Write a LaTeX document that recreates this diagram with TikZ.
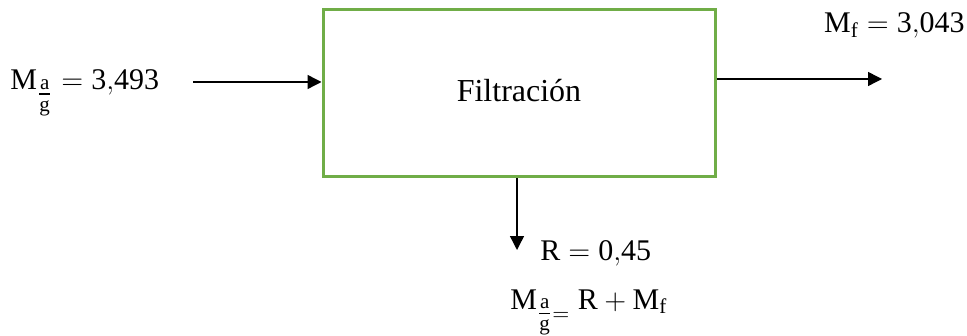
\documentclass[tikz,border=0pt]{standalone}
\usepackage{amsmath}
\usepackage{fontspec}
\setmainfont{Liberation Serif}
\setmathrm{Liberation Serif}
\usetikzlibrary{arrows.meta, positioning}
\definecolor{boxgreen}{RGB}{112,173,71}
\newcommand{\agsub}{\genfrac{}{}{}{1}{\mathrm{a}}{\mathrm{g}}}

\begin{document}
\begin{tikzpicture}[x=0.5pt, y=-0.5pt,
                box/.style={draw=boxgreen, line width=1.5pt, minimum width=196pt, minimum height=83.5pt,
                    font=\fontsize{16}{19}\selectfont},
                lbl/.style={inner sep=0pt, font=\fontsize{15}{18}\selectfont},
                arr/.style={-{Triangle[length=7pt, width=7pt]}, line width=0.7pt}]
                \useasboundingbox (0,0) rectangle (967,336);
                \node[box] (filt) at (519,93.5) {\raisebox{3.5pt}{Filtración}};
                \node[lbl, anchor=base west] (ma) at (10,90) {$\mathrm{M}_{\agsub} = \mathrm{3{,}493}$};
                \node[lbl, anchor=base east] (mf) at (965,33) {$\mathrm{M}_{\mathrm{f}} = \mathrm{3{,}043}$};
                \node[lbl, anchor=base west] (r) at (540,260) {$\mathrm{R} = \mathrm{0{,}45}$};
                \node[lbl, anchor=base west] (bal) at (510,309) {$\mathrm{M}_{\agsub=}\ \mathrm{R} + \mathrm{M}_{\mathrm{f}}$};
                \coordinate (in) at (193,82);
                \coordinate (out) at (882,79);
                \coordinate (down) at (517,250);
                \draw[arr] (in) -- (filt.west |- in);
                \draw[arr] (filt.east |- out) -- (out);
                \draw[arr] (filt.south -| down) -- (down);
            \end{tikzpicture}
\end{document}
